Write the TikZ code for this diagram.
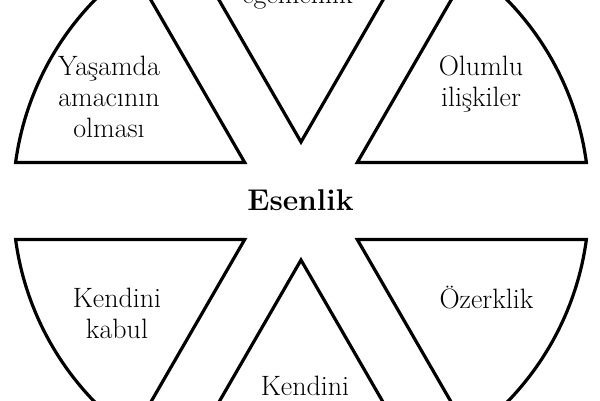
\documentclass[tikz,border=0pt]{standalone}
\usepackage{fontspec}
\begin{document}
\begin{tikzpicture}[x=1pt, y=1pt,
    sector/.style={draw, line width=3.2pt, line join=miter},
    label/.style={inner sep=0pt, align=center, font=\fontsize{28}{31}\selectfont}]
    \fill[white] (-301,-199) rectangle (299,201);
    \useasboundingbox (-301,-199) rectangle (299,201);

    \draw[sector] (0,59) -- (65.88:288) arc[start angle=65.88, end angle=114.12, radius=288] -- cycle;
    \draw[sector] (-56.29,38.5) -- (125.88:288) arc[start angle=125.88, end angle=172.32, radius=288] -- cycle;
    \draw[sector] (-56.29,-38.5) -- (187.68:288) arc[start angle=187.68, end angle=234.12, radius=288] -- cycle;
    \draw[sector] (0,-59) -- (245.88:288) arc[start angle=245.88, end angle=294.12, radius=288] -- cycle;
    \draw[sector] (56.29,-38.5) -- (305.88:288) arc[start angle=305.88, end angle=352.32, radius=288] -- cycle;
    \draw[sector] (56.29,38.5) -- (7.68:288) arc[start angle=7.68, end angle=54.12, radius=288] -- cycle;

    \node[label, anchor=base] (mastery) at (-3.5,198) {egemenlik};
    \node[label] (purpose) at (-192,104) {Yaşamda\\amacının\\olması};
    \node[label] (relations) at (180,117) {Olumlu\\ilişkiler};
    \node[label, anchor=base] (autonomy) at (185.5,-107) {Özerklik};
    \node[label] (acceptance) at (-184,-112.5) {Kendini\\kabul};
    \node[label, anchor=base] (growth) at (4,-194) {Kendini};
    \node[inner sep=0pt, anchor=base, font=\fontsize{30}{34}\selectfont\bfseries] (wellbeing) at (-0.5,-9) {Esenlik};
\end{tikzpicture}
\end{document}
